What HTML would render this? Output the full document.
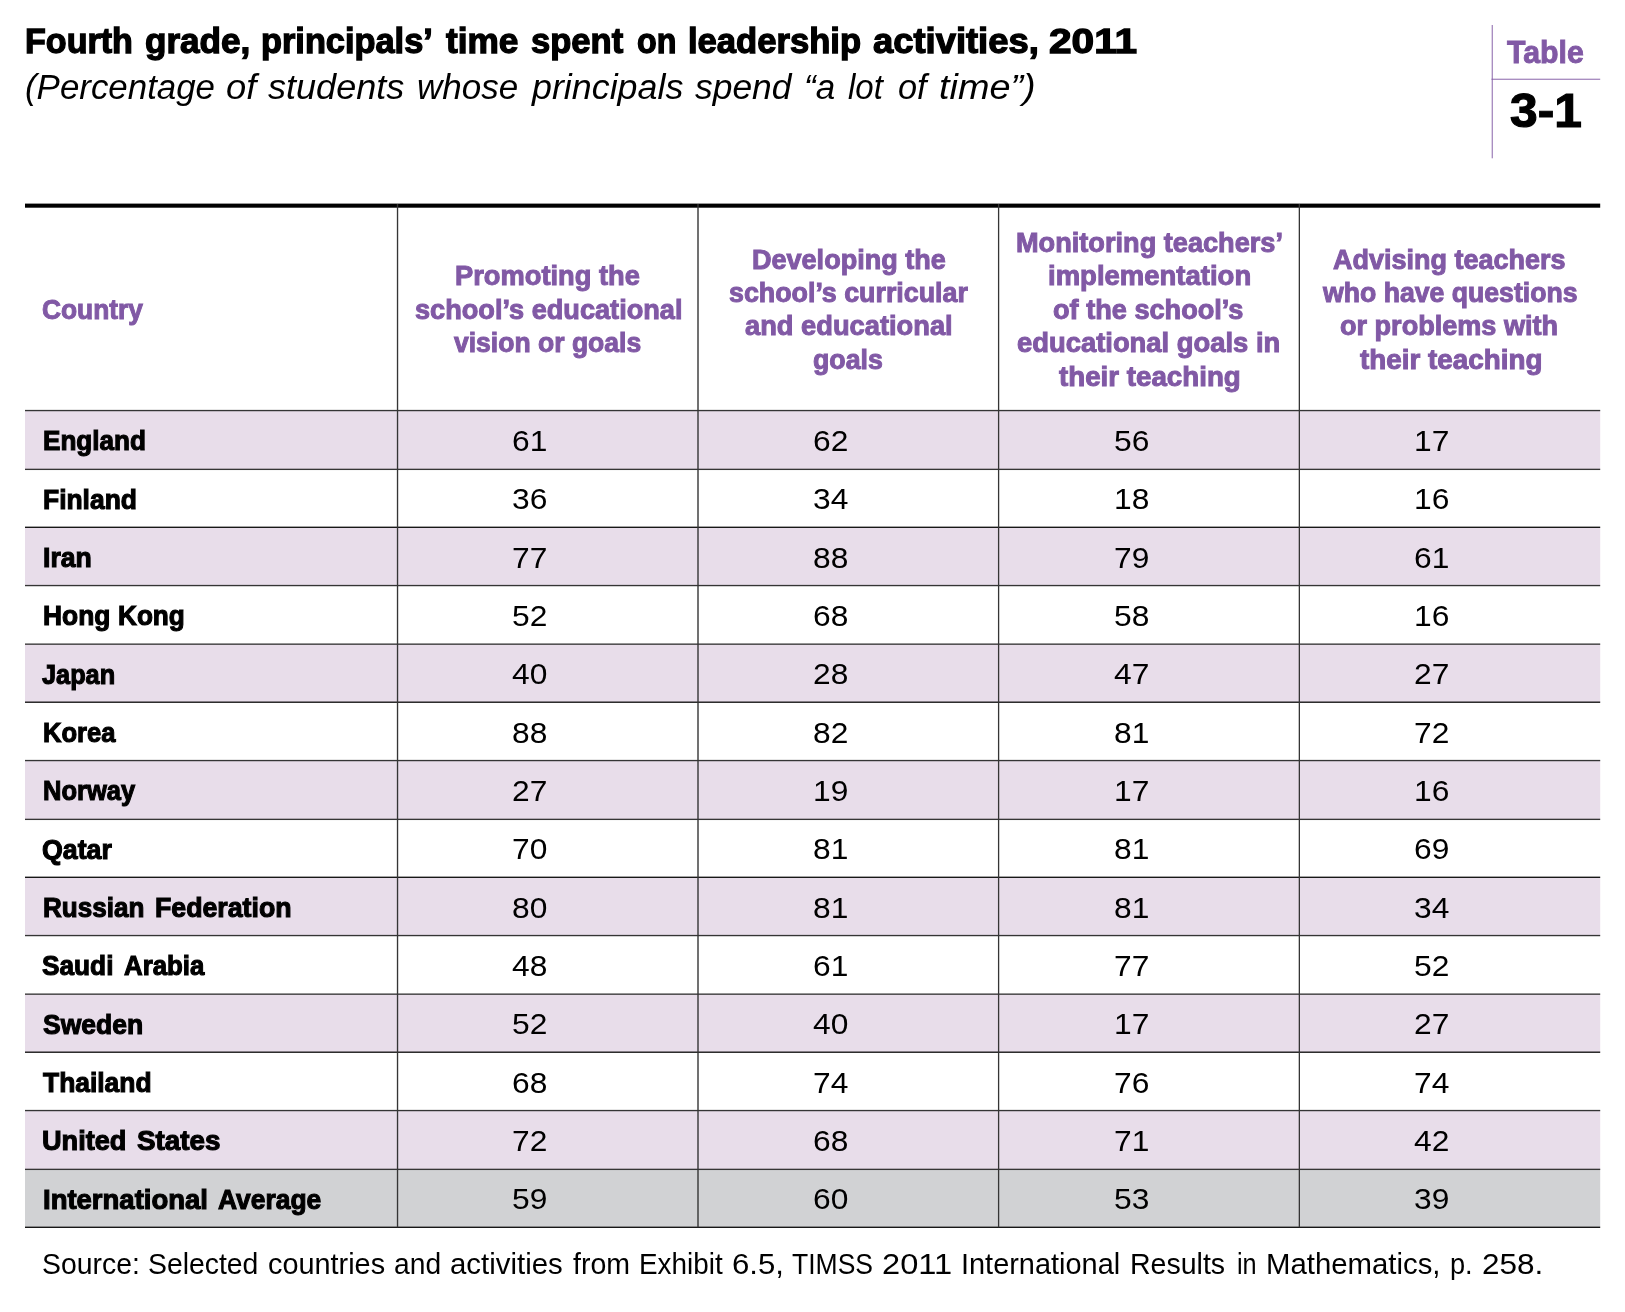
<!DOCTYPE html>
<html><head><meta charset="utf-8"><title>Table 3-1</title>
<style>
html,body{margin:0;padding:0;background:#fff;}
body{width:1625px;height:1312px;position:relative;overflow:hidden;font-family:"Liberation Sans",sans-serif;}
.t{position:absolute;white-space:nowrap;transform-origin:0 0;line-height:1;margin:0;padding:0;}
.b{font-weight:bold}.i{font-style:italic}.p{color:#8159a5;-webkit-text-stroke-color:#8159a5}
svg{position:absolute;left:0;top:0;}
</style></head><body>

<svg width="1625" height="1312" viewBox="0 0 1625 1312">
<rect x="25.0" y="410.56" width="1575.20" height="58.80" fill="#e8ddea"/>
<rect x="25.0" y="527.30" width="1575.20" height="58.26" fill="#e8ddea"/>
<rect x="25.0" y="644.15" width="1575.20" height="58.05" fill="#e8ddea"/>
<rect x="25.0" y="760.56" width="1575.20" height="58.80" fill="#e8ddea"/>
<rect x="25.0" y="877.30" width="1575.20" height="58.26" fill="#e8ddea"/>
<rect x="25.0" y="994.15" width="1575.20" height="58.05" fill="#e8ddea"/>
<rect x="25.0" y="1110.56" width="1575.20" height="58.80" fill="#e8ddea"/>
<rect x="25.0" y="1169.36" width="1575.20" height="57.94" fill="#d1d2d4"/>
<rect x="25.0" y="203.6" width="1575.20" height="4.1" fill="#000"/>
<rect x="25.0" y="409.88" width="1575.20" height="1.35" fill="#353535"/>
<rect x="25.0" y="468.69" width="1575.20" height="1.35" fill="#353535"/>
<rect x="25.0" y="526.62" width="1575.20" height="1.35" fill="#111"/>
<rect x="25.0" y="584.88" width="1575.20" height="1.35" fill="#353535"/>
<rect x="25.0" y="643.48" width="1575.20" height="1.35" fill="#353535"/>
<rect x="25.0" y="701.53" width="1575.20" height="1.35" fill="#111"/>
<rect x="25.0" y="759.88" width="1575.20" height="1.35" fill="#353535"/>
<rect x="25.0" y="818.69" width="1575.20" height="1.35" fill="#353535"/>
<rect x="25.0" y="876.62" width="1575.20" height="1.35" fill="#111"/>
<rect x="25.0" y="934.88" width="1575.20" height="1.35" fill="#353535"/>
<rect x="25.0" y="993.48" width="1575.20" height="1.35" fill="#353535"/>
<rect x="25.0" y="1051.53" width="1575.20" height="1.35" fill="#111"/>
<rect x="25.0" y="1109.88" width="1575.20" height="1.35" fill="#353535"/>
<rect x="25.0" y="1168.69" width="1575.20" height="1.35" fill="#353535"/>
<rect x="25.0" y="1226.62" width="1575.20" height="1.35" fill="#111"/>
<rect x="396.85" y="204" width="1.35" height="1023.30" fill="#353535"/>
<rect x="697.30" y="204" width="1.40" height="1023.30" fill="#353535"/>
<rect x="997.95" y="204" width="1.30" height="1023.30" fill="#353535"/>
<rect x="1298.70" y="204" width="1.30" height="1023.30" fill="#353535"/>
<rect x="1491.7" y="25" width="1.1" height="133.3" fill="#8159a5" opacity="0.85"/>
<rect x="1491.5" y="78.7" width="108.7" height="1.1" fill="#8159a5" opacity="0.85"/>
</svg>
<div id="txt" style="will-change:transform;position:absolute;left:0;top:0;width:1625px;height:1312px">
<div class="t b" style="left:25.28px;top:23px;font-size:35px;transform:scaleX(0.9741);-webkit-text-stroke-width:1.3px">Fourth</div>
<div class="t b" style="left:145.15px;top:23px;font-size:35px;transform:scaleX(1.0028);-webkit-text-stroke-width:1.3px">grade,</div>
<div class="t b" style="left:260.98px;top:23px;font-size:35px;transform:scaleX(0.9813);-webkit-text-stroke-width:1.3px">principals’</div>
<div class="t b" style="left:446.35px;top:23px;font-size:35px;transform:scaleX(1.0069);-webkit-text-stroke-width:1.3px">time</div>
<div class="t b" style="left:531.05px;top:23px;font-size:35px;transform:scaleX(0.9873);-webkit-text-stroke-width:1.3px">spent</div>
<div class="t b" style="left:636.78px;top:23px;font-size:35px;transform:scaleX(0.9213);-webkit-text-stroke-width:1.3px">on</div>
<div class="t b" style="left:688.17px;top:23px;font-size:35px;transform:scaleX(0.9885);-webkit-text-stroke-width:1.3px">leadership</div>
<div class="t b" style="left:872.84px;top:23px;font-size:35px;transform:scaleX(1.0392);-webkit-text-stroke-width:1.3px">activities,</div>
<div class="t b" style="left:1049.39px;top:23px;font-size:35px;transform:scaleX(1.1602);-webkit-text-stroke-width:1.3px">2011</div>
<div class="t i" style="left:25.22px;top:70px;font-size:35.5px;transform:scaleX(0.9825)">(Percentage</div>
<div class="t i" style="left:226.48px;top:70px;font-size:35.5px;transform:scaleX(1.0238)">of</div>
<div class="t i" style="left:268.00px;top:70px;font-size:35.5px;transform:scaleX(1.0160)">students</div>
<div class="t i" style="left:417.11px;top:70px;font-size:35.5px;transform:scaleX(0.9864)">whose</div>
<div class="t i" style="left:531.81px;top:70px;font-size:35.5px;transform:scaleX(1.0092)">principals</div>
<div class="t i" style="left:695.20px;top:70px;font-size:35.5px;transform:scaleX(0.9971)">spend</div>
<div class="t i" style="left:804.13px;top:70px;font-size:35.5px;transform:scaleX(0.9854)">“a</div>
<div class="t i" style="left:848.10px;top:70px;font-size:35.5px;transform:scaleX(0.9311)">lot</div>
<div class="t i" style="left:897.53px;top:70px;font-size:35.5px;transform:scaleX(0.9671)">of</div>
<div class="t i" style="left:938.53px;top:70px;font-size:35.5px;transform:scaleX(1.0650)">time”)</div>
<div class="t b p" style="left:1507.34px;top:37px;font-size:31px;transform:scaleX(0.9757);-webkit-text-stroke-width:0.9px">Table</div>
<div class="t b" style="left:1510.39px;top:86px;font-size:48.5px;transform:scaleX(1.0242);-webkit-text-stroke-width:1.2px">3-1</div>
<div class="t b p" style="left:42.03px;top:296px;font-size:27.8px;transform:scaleX(0.9478);-webkit-text-stroke-width:1.0px">Country</div>
<div class="t b p" style="left:455.11px;top:262px;font-size:27.8px;transform:scaleX(0.9812);-webkit-text-stroke-width:1.0px">Promoting the</div>
<div class="t b p" style="left:414.59px;top:296px;font-size:27.8px;transform:scaleX(0.9766);-webkit-text-stroke-width:1.0px">school’s educational</div>
<div class="t b p" style="left:454.28px;top:329px;font-size:27.8px;transform:scaleX(0.9542);-webkit-text-stroke-width:1.0px">vision or goals</div>
<div class="t b p" style="left:751.61px;top:246px;font-size:27.8px;transform:scaleX(0.9725);-webkit-text-stroke-width:1.0px">Developing the</div>
<div class="t b p" style="left:728.88px;top:279px;font-size:27.8px;transform:scaleX(0.9644);-webkit-text-stroke-width:1.0px">school’s curricular</div>
<div class="t b p" style="left:745.19px;top:312px;font-size:27.8px;transform:scaleX(0.9816);-webkit-text-stroke-width:1.0px">and educational</div>
<div class="t b p" style="left:812.82px;top:346px;font-size:27.8px;transform:scaleX(0.9620);-webkit-text-stroke-width:1.0px">goals</div>
<div class="t b p" style="left:1015.91px;top:229px;font-size:27.8px;transform:scaleX(0.9766);-webkit-text-stroke-width:1.0px">Monitoring teachers’</div>
<div class="t b p" style="left:1047.51px;top:262px;font-size:27.8px;transform:scaleX(0.9891);-webkit-text-stroke-width:1.0px">implementation</div>
<div class="t b p" style="left:1053.41px;top:296px;font-size:27.8px;transform:scaleX(0.9761);-webkit-text-stroke-width:1.0px">of the school’s</div>
<div class="t b p" style="left:1017.11px;top:329px;font-size:27.8px;transform:scaleX(0.9853);-webkit-text-stroke-width:1.0px">educational goals in</div>
<div class="t b p" style="left:1058.90px;top:363px;font-size:27.8px;transform:scaleX(0.9974);-webkit-text-stroke-width:1.0px">their teaching</div>
<div class="t b p" style="left:1333.49px;top:246px;font-size:27.8px;transform:scaleX(0.9709);-webkit-text-stroke-width:1.0px">Advising teachers</div>
<div class="t b p" style="left:1323.24px;top:279px;font-size:27.8px;transform:scaleX(0.9581);-webkit-text-stroke-width:1.0px">who have questions</div>
<div class="t b p" style="left:1340.21px;top:312px;font-size:27.8px;transform:scaleX(0.9737);-webkit-text-stroke-width:1.0px">or problems with</div>
<div class="t b p" style="left:1359.50px;top:346px;font-size:27.8px;transform:scaleX(1.0012);-webkit-text-stroke-width:1.0px">their teaching</div>
<div class="t b" style="left:42.57px;top:427px;font-size:27.5px;transform:scaleX(0.9497);-webkit-text-stroke-width:1.1px">England</div>
<div class="t" style="left:511.64px;top:426px;font-size:30px;transform:scaleX(1.0573)">61</div>
<div class="t" style="left:812.64px;top:426px;font-size:30px;transform:scaleX(1.0573)">62</div>
<div class="t" style="left:1113.64px;top:426px;font-size:30px;transform:scaleX(1.0573)">56</div>
<div class="t" style="left:1414.14px;top:426px;font-size:30px;transform:scaleX(1.0573)">17</div>
<div class="t b" style="left:42.57px;top:486px;font-size:27.5px;transform:scaleX(0.9608);-webkit-text-stroke-width:1.1px">Finland</div>
<div class="t" style="left:511.64px;top:484px;font-size:30px;transform:scaleX(1.0573)">36</div>
<div class="t" style="left:812.64px;top:484px;font-size:30px;transform:scaleX(1.0573)">34</div>
<div class="t" style="left:1113.64px;top:484px;font-size:30px;transform:scaleX(1.0573)">18</div>
<div class="t" style="left:1414.14px;top:484px;font-size:30px;transform:scaleX(1.0573)">16</div>
<div class="t b" style="left:42.56px;top:544px;font-size:27.5px;transform:scaleX(0.9671);-webkit-text-stroke-width:1.1px">Iran</div>
<div class="t" style="left:511.64px;top:543px;font-size:30px;transform:scaleX(1.0573)">77</div>
<div class="t" style="left:812.64px;top:543px;font-size:30px;transform:scaleX(1.0573)">88</div>
<div class="t" style="left:1113.64px;top:543px;font-size:30px;transform:scaleX(1.0573)">79</div>
<div class="t" style="left:1414.14px;top:543px;font-size:30px;transform:scaleX(1.0573)">61</div>
<div class="t b" style="left:42.57px;top:602px;font-size:27.5px;transform:scaleX(0.9583);-webkit-text-stroke-width:1.1px">Hong</div>
<div class="t b" style="left:118.17px;top:602px;font-size:27.5px;transform:scaleX(0.9510);-webkit-text-stroke-width:1.1px">Kong</div>
<div class="t" style="left:511.64px;top:601px;font-size:30px;transform:scaleX(1.0573)">52</div>
<div class="t" style="left:812.64px;top:601px;font-size:30px;transform:scaleX(1.0573)">68</div>
<div class="t" style="left:1113.64px;top:601px;font-size:30px;transform:scaleX(1.0573)">58</div>
<div class="t" style="left:1414.14px;top:601px;font-size:30px;transform:scaleX(1.0573)">16</div>
<div class="t b" style="left:42.41px;top:661px;font-size:27.5px;transform:scaleX(0.9200);-webkit-text-stroke-width:1.1px">Japan</div>
<div class="t" style="left:511.64px;top:659px;font-size:30px;transform:scaleX(1.0573)">40</div>
<div class="t" style="left:812.64px;top:659px;font-size:30px;transform:scaleX(1.0573)">28</div>
<div class="t" style="left:1113.64px;top:659px;font-size:30px;transform:scaleX(1.0573)">47</div>
<div class="t" style="left:1414.14px;top:659px;font-size:30px;transform:scaleX(1.0573)">27</div>
<div class="t b" style="left:42.58px;top:719px;font-size:27.5px;transform:scaleX(0.9295);-webkit-text-stroke-width:1.1px">Korea</div>
<div class="t" style="left:511.64px;top:718px;font-size:30px;transform:scaleX(1.0573)">88</div>
<div class="t" style="left:812.64px;top:718px;font-size:30px;transform:scaleX(1.0573)">82</div>
<div class="t" style="left:1113.64px;top:718px;font-size:30px;transform:scaleX(1.0573)">81</div>
<div class="t" style="left:1414.14px;top:718px;font-size:30px;transform:scaleX(1.0573)">72</div>
<div class="t b" style="left:42.58px;top:777px;font-size:27.5px;transform:scaleX(0.9277);-webkit-text-stroke-width:1.1px">Norway</div>
<div class="t" style="left:511.64px;top:776px;font-size:30px;transform:scaleX(1.0573)">27</div>
<div class="t" style="left:812.64px;top:776px;font-size:30px;transform:scaleX(1.0573)">19</div>
<div class="t" style="left:1113.64px;top:776px;font-size:30px;transform:scaleX(1.0573)">17</div>
<div class="t" style="left:1414.14px;top:776px;font-size:30px;transform:scaleX(1.0573)">16</div>
<div class="t b" style="left:42.16px;top:836px;font-size:27.5px;transform:scaleX(0.9718);-webkit-text-stroke-width:1.1px">Qatar</div>
<div class="t" style="left:511.64px;top:834px;font-size:30px;transform:scaleX(1.0573)">70</div>
<div class="t" style="left:812.64px;top:834px;font-size:30px;transform:scaleX(1.0573)">81</div>
<div class="t" style="left:1113.64px;top:834px;font-size:30px;transform:scaleX(1.0573)">81</div>
<div class="t" style="left:1414.14px;top:834px;font-size:30px;transform:scaleX(1.0573)">69</div>
<div class="t b" style="left:42.57px;top:894px;font-size:27.5px;transform:scaleX(0.9475);-webkit-text-stroke-width:1.1px">Russian</div>
<div class="t b" style="left:154.86px;top:894px;font-size:27.5px;transform:scaleX(0.9716);-webkit-text-stroke-width:1.1px">Federation</div>
<div class="t" style="left:511.64px;top:893px;font-size:30px;transform:scaleX(1.0573)">80</div>
<div class="t" style="left:812.64px;top:893px;font-size:30px;transform:scaleX(1.0573)">81</div>
<div class="t" style="left:1113.64px;top:893px;font-size:30px;transform:scaleX(1.0573)">81</div>
<div class="t" style="left:1414.14px;top:893px;font-size:30px;transform:scaleX(1.0573)">34</div>
<div class="t b" style="left:42.42px;top:952px;font-size:27.5px;transform:scaleX(0.9538);-webkit-text-stroke-width:1.1px">Saudi</div>
<div class="t b" style="left:123.82px;top:952px;font-size:27.5px;transform:scaleX(0.9394);-webkit-text-stroke-width:1.1px">Arabia</div>
<div class="t" style="left:511.64px;top:951px;font-size:30px;transform:scaleX(1.0573)">48</div>
<div class="t" style="left:812.64px;top:951px;font-size:30px;transform:scaleX(1.0573)">61</div>
<div class="t" style="left:1113.64px;top:951px;font-size:30px;transform:scaleX(1.0573)">77</div>
<div class="t" style="left:1414.14px;top:951px;font-size:30px;transform:scaleX(1.0573)">52</div>
<div class="t b" style="left:42.73px;top:1011px;font-size:27.5px;transform:scaleX(0.9634);-webkit-text-stroke-width:1.1px">Sweden</div>
<div class="t" style="left:511.64px;top:1009px;font-size:30px;transform:scaleX(1.0573)">52</div>
<div class="t" style="left:812.64px;top:1009px;font-size:30px;transform:scaleX(1.0573)">40</div>
<div class="t" style="left:1113.64px;top:1009px;font-size:30px;transform:scaleX(1.0573)">17</div>
<div class="t" style="left:1414.14px;top:1009px;font-size:30px;transform:scaleX(1.0573)">27</div>
<div class="t b" style="left:42.73px;top:1069px;font-size:27.5px;transform:scaleX(0.9603);-webkit-text-stroke-width:1.1px">Thailand</div>
<div class="t" style="left:511.64px;top:1068px;font-size:30px;transform:scaleX(1.0573)">68</div>
<div class="t" style="left:812.64px;top:1068px;font-size:30px;transform:scaleX(1.0573)">74</div>
<div class="t" style="left:1113.64px;top:1068px;font-size:30px;transform:scaleX(1.0573)">76</div>
<div class="t" style="left:1414.14px;top:1068px;font-size:30px;transform:scaleX(1.0573)">74</div>
<div class="t b" style="left:42.36px;top:1127px;font-size:27.5px;transform:scaleX(0.9863);-webkit-text-stroke-width:1.1px">United</div>
<div class="t b" style="left:136.86px;top:1127px;font-size:27.5px;transform:scaleX(1.0114);-webkit-text-stroke-width:1.1px">States</div>
<div class="t" style="left:511.64px;top:1126px;font-size:30px;transform:scaleX(1.0573)">72</div>
<div class="t" style="left:812.64px;top:1126px;font-size:30px;transform:scaleX(1.0573)">68</div>
<div class="t" style="left:1113.64px;top:1126px;font-size:30px;transform:scaleX(1.0573)">71</div>
<div class="t" style="left:1414.14px;top:1126px;font-size:30px;transform:scaleX(1.0573)">42</div>
<div class="t b" style="left:42.75px;top:1186px;font-size:27.5px;transform:scaleX(0.9996);-webkit-text-stroke-width:1.1px">International</div>
<div class="t b" style="left:218.03px;top:1186px;font-size:27.5px;transform:scaleX(0.9601);-webkit-text-stroke-width:1.1px">Average</div>
<div class="t" style="left:511.64px;top:1184px;font-size:30px;transform:scaleX(1.0573)">59</div>
<div class="t" style="left:812.64px;top:1184px;font-size:30px;transform:scaleX(1.0573)">60</div>
<div class="t" style="left:1113.64px;top:1184px;font-size:30px;transform:scaleX(1.0573)">53</div>
<div class="t" style="left:1414.14px;top:1184px;font-size:30px;transform:scaleX(1.0573)">39</div>
<div class="t" style="left:41.82px;top:1250px;font-size:29px;transform:scaleX(0.9785)">Source:</div>
<div class="t" style="left:148.42px;top:1250px;font-size:29px;transform:scaleX(0.9781)">Selected</div>
<div class="t" style="left:267.80px;top:1250px;font-size:29px;transform:scaleX(0.9951)">countries</div>
<div class="t" style="left:394.33px;top:1250px;font-size:29px;transform:scaleX(0.9728)">and</div>
<div class="t" style="left:450.39px;top:1250px;font-size:29px;transform:scaleX(1.0137)">activities</div>
<div class="t" style="left:573.20px;top:1250px;font-size:29px;transform:scaleX(0.9834)">from</div>
<div class="t" style="left:638.98px;top:1250px;font-size:29px;transform:scaleX(0.9613)">Exhibit</div>
<div class="t" style="left:731.73px;top:1250px;font-size:29px;transform:scaleX(1.0747)">6.5,</div>
<div class="t" style="left:791.90px;top:1250px;font-size:29px;transform:scaleX(0.9142)">TIMSS</div>
<div class="t" style="left:882.08px;top:1250px;font-size:29px;transform:scaleX(1.1240)">2011</div>
<div class="t" style="left:961.21px;top:1250px;font-size:29px;transform:scaleX(0.9970)">International</div>
<div class="t" style="left:1130.03px;top:1250px;font-size:29px;transform:scaleX(0.9830)">Results</div>
<div class="t" style="left:1237.03px;top:1250px;font-size:29px;transform:scaleX(0.8707)">in</div>
<div class="t" style="left:1266.38px;top:1250px;font-size:29px;transform:scaleX(1.0120)">Mathematics,</div>
<div class="t" style="left:1450.06px;top:1250px;font-size:29px;transform:scaleX(0.9371)">p.</div>
<div class="t" style="left:1481.91px;top:1250px;font-size:29px;transform:scaleX(1.0864)">258.</div>
</div>
</body></html>
